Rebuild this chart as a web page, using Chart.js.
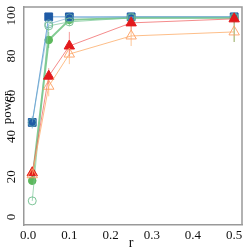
<!DOCTYPE html>
<html><head><meta charset="utf-8">
<script src="https://cdn.jsdelivr.net/npm/chart.js@4"></script>
<style>html,body{margin:0;padding:0;background:#fff;}#wrap{width:249px;height:249px;}</style>
</head><body><div id="wrap"><canvas id="c" width="249" height="249"></canvas></div>
<script>
const rValues = [0.01, 0.05, 0.1, 0.25, 0.5];
const yTicks = [0, 20, 40, 60, 80, 100];
const xTicks = [0.0, 0.1, 0.2, 0.3, 0.4, 0.5];
const blueSquare = [47, 99.5, 99.5, 99.5, 99.5];
const blueOpen = [47, 96, 99, 99.5, 99.5];
const greenFilled = [18, 88, 98, 99, 99];
const greenOpen = [8, 95, 97, 99, 99];
const redTri = [22, 70, 85, 96.5, 98.5];
const orangeOpen = [21, 65, 81, 90, 92];
const greenFilledErr = [[16,20],[84,92],[95,100],[97,100],[87,100]];
const redErr = [[20,24],[66,74],[80,92],[93,99],[96,100]];
const orangeErr = [[19,24],[60,70],[76,86],[85,95],[87,96]];
const blueErr = [[44,50],[98,100],[98,100],[98,100],[98,100]];

function pts(arr){ return arr.map((v,i)=>({x:rValues[i], y:v})); }

const errPlugin = {
  id:'err',
  beforeDatasetsDraw(chart){
    const ctx = chart.ctx, xs = chart.scales.x, ys = chart.scales.y;
    chart.data.datasets.forEach(ds=>{
      if(!ds.err) return;
      ctx.save();
      ctx.strokeStyle = ds.errColor; ctx.lineWidth = 1;
      ds.err.forEach((e,i)=>{
        const px = xs.getPixelForValue(rValues[i]);
        ctx.beginPath();
        ctx.moveTo(px, ys.getPixelForValue(e[0]));
        ctx.lineTo(px, ys.getPixelForValue(e[1]));
        ctx.stroke();
      });
      ctx.restore();
    });
  }
};
const labelPlugin = {
  id:'labels',
  afterDraw(chart){
    const ctx = chart.ctx, ys = chart.scales.y, xs = chart.scales.x;
    ctx.save();
    ctx.fillStyle = '#111';
    ctx.font = '13px "Liberation Serif", serif';
    ctx.textAlign='center'; ctx.textBaseline='middle';
    ctx.save(); ctx.translate(8, 108); ctx.rotate(-Math.PI/2); ctx.fillText('power',0,0); ctx.restore();
    ctx.font = '13px "Liberation Serif", serif';
    yTicks.forEach(v=>{
      const py = ys.getPixelForValue(v);
      ctx.save(); ctx.translate(12, py); ctx.rotate(-Math.PI/2); ctx.fillText(String(v),0,0); ctx.restore();
    });
    ctx.font = '14px "Liberation Serif", serif';
    ctx.fillText('r', (xs.left+xs.right)/2 - 2, 243);
    ctx.restore();
  }
};

new Chart(document.getElementById('c'), {
  type:'scatter',
  data:{ datasets:[
    {data:pts(orangeOpen), showLine:true, borderColor:'rgba(253,174,107,0.8)', borderWidth:1, pointStyle:'triangle', pointRadius:6, pointBackgroundColor:'rgba(255,255,255,0)', pointBorderColor:'rgba(253,160,100,0.9)', pointBorderWidth:1, err:orangeErr, errColor:'rgba(253,174,107,0.7)'},
    {data:pts(redTri), showLine:true, borderColor:'rgba(240,90,90,0.7)', borderWidth:1, pointStyle:'triangle', pointRadius:6, pointBackgroundColor:'#e3191c', pointBorderColor:'#e3191c', pointBorderWidth:1, err:redErr, errColor:'rgba(240,90,90,0.6)'},
    {data:pts(greenOpen), showLine:true, borderColor:'rgba(120,200,150,0.7)', borderWidth:1, pointStyle:'circle', pointRadius:4, pointBackgroundColor:'rgba(255,255,255,0)', pointBorderColor:'rgba(110,190,140,0.9)', pointBorderWidth:1},
    {data:pts(blueOpen), showLine:true, borderColor:'rgba(110,170,200,0.6)', borderWidth:1, pointStyle:'circle', pointRadius:4, pointBackgroundColor:'rgba(255,255,255,0)', pointBorderColor:'rgba(100,170,170,0.8)', pointBorderWidth:1},
    {data:pts(blueSquare), showLine:true, borderColor:'rgba(100,160,215,0.9)', borderWidth:1, pointStyle:'rect', pointRadius:5.5, pointBackgroundColor:'#1f5ba6', pointBorderColor:'#1f5ba6', pointBorderWidth:1, err:blueErr, errColor:'rgba(100,160,215,0.7)'},
    {data:pts(greenFilled), showLine:true, borderColor:'rgba(100,190,120,0.8)', borderWidth:2, pointStyle:'circle', pointRadius:3.8, pointBackgroundColor:'#5cb85c', pointBorderColor:'#5cb85c', pointBorderWidth:1, err:greenFilledErr, errColor:'rgba(100,180,110,0.7)'}
  ]},
  options:{
    responsive:false, animation:false, devicePixelRatio:1,
    layout:{padding:{top:5,right:6,left:0,bottom:0}},
    plugins:{legend:{display:false}, tooltip:{enabled:false}},
    scales:{
      x:{type:'linear', min:-0.01, max:0.519,
        afterBuildTicks(s){ s.ticks = xTicks.map(v=>({value:v})); },
        afterFit(s){ s.height = 24; },
        grid:{display:false, drawTicks:true, tickLength:3, tickColor:'#999'},
        border:{color:'#999', width:1.5},
        ticks:{color:'#111', font:{family:'"Liberation Serif", serif', size:13}, padding:0, maxRotation:0, callback:v=>Number(v).toFixed(1)}},
      y:{type:'linear', min:-4, max:104.4,
        afterBuildTicks(s){ s.ticks = yTicks.map(v=>({value:v})); },
        afterFit(s){ s.width = 24; },
        grid:{display:false, drawTicks:true, tickLength:3, tickColor:'#999'},
        border:{color:'#999', width:1.5},
        ticks:{display:true, color:'rgba(0,0,0,0)', font:{size:1}, callback:()=>''}}
    }
  },
  plugins:[errPlugin, labelPlugin, {id:'frame', afterDraw(chart){const a=chart.chartArea,ctx=chart.ctx;ctx.save();ctx.strokeStyle='#999';ctx.lineWidth=1.5;ctx.beginPath();ctx.moveTo(a.left,a.top);ctx.lineTo(a.right,a.top);ctx.lineTo(a.right,a.bottom);ctx.stroke();ctx.restore();}}]
});
</script></body></html>
